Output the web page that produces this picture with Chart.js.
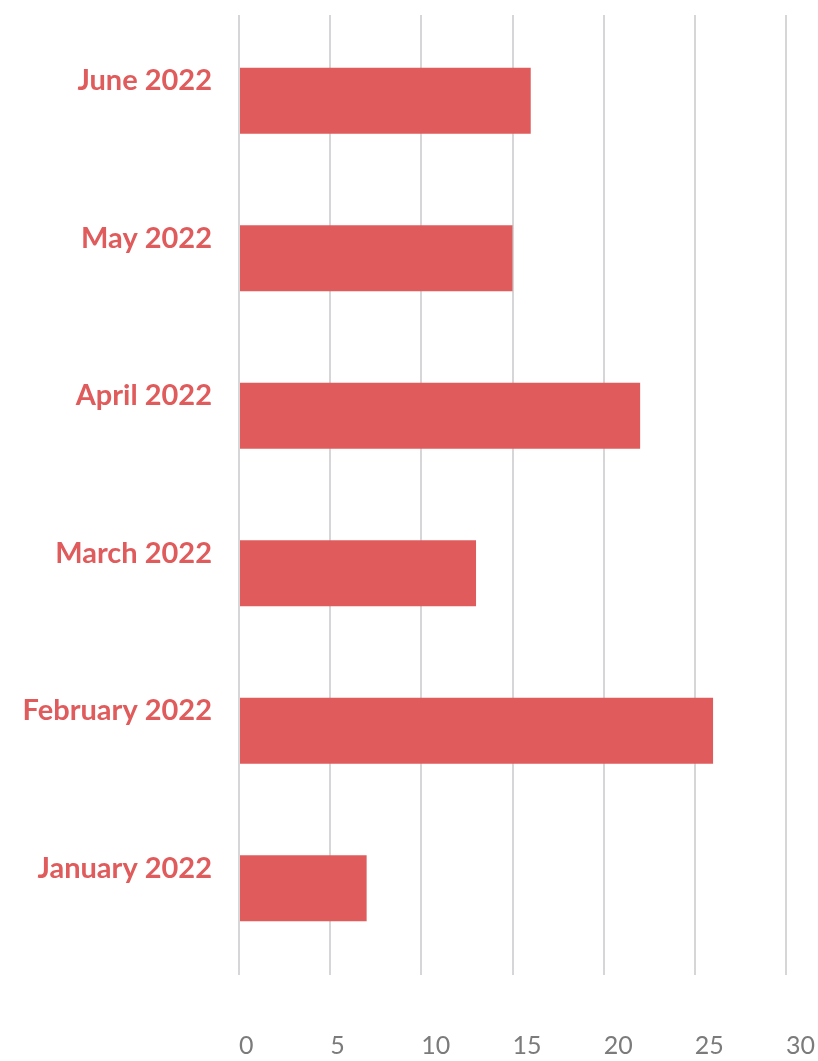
<!DOCTYPE html>
<html>

<head>
    <title>Monthly totals</title>
    <script src="https://cdn.jsdelivr.net/npm/chart.js@4.4.1/dist/chart.umd.min.js"></script>
    <style>
        body { margin: 0; background: #fff; }
        .grafico { width: 818px; height: 1061px; }
    </style>
</head>

<body>
    <div class="grafico">
        <canvas id="barras"></canvas>
    </div>

    <script>
        // months in calendar order, drawn bottom to top
        var meses = ['January 2022', 'February 2022', 'March 2022', 'April 2022', 'May 2022', 'June 2022'];
        var valores = [7, 26, 13, 22, 15, 16];
        var escala = [0, 5, 10, 15, 20, 25, 30];

        var vermelho = '#e05b5b';
        var cinzaGrade = '#d6d6d8';

        // keep chart.js from adding its own label padding around the plot
        function semPadding(scale) {
            scale.paddingTop = 0;
            scale.paddingBottom = 0;
            scale.paddingLeft = 0;
            scale.paddingRight = 0;
        }

        var ctx = document.getElementById('barras').getContext('2d');
        var grafico = new Chart(ctx, {
            type: 'bar',
            data: {
                labels: meses,
                datasets: [{
                    data: valores,
                    backgroundColor: vermelho,
                    borderWidth: 0,
                    categoryPercentage: 1,
                    barPercentage: 0.42
                }]
            },
            options: {
                indexAxis: 'y',
                responsive: true,
                maintainAspectRatio: false,
                animation: false,
                layout: { padding: { top: 15, right: 32, bottom: 0, left: 0 } },
                plugins: {
                    legend: { display: false },
                    tooltip: { enabled: false }
                },
                scales: {
                    x: {
                        min: escala[0],
                        max: escala[escala.length - 1],
                        border: { display: false },
                        grid: { color: cinzaGrade, lineWidth: 2, drawTicks: true, tickLength: 8 },
                        ticks: {
                            stepSize: 5,
                            align: 'start',
                            padding: 56,
                            color: '#7b7b7b',
                            font: { family: 'Lato', size: 25 }
                        },
                        afterFit: function (scale) {
                            semPadding(scale);
                            scale.height = 94;
                        }
                    },
                    // top copy of the axis only to carry the short grid stubs above the bars
                    x2: {
                        position: 'top',
                        min: escala[0],
                        max: escala[escala.length - 1],
                        border: { display: false },
                        grid: { color: cinzaGrade, lineWidth: 2, drawOnChartArea: false, drawTicks: true, tickLength: 7 },
                        ticks: { stepSize: 5, display: false },
                        afterFit: function (scale) {
                            semPadding(scale);
                            scale.height = 7;
                        }
                    },
                    y: {
                        reverse: true,
                        border: { display: false },
                        grid: { display: false, drawTicks: false },
                        ticks: {
                            padding: 27,
                            labelOffset: -20,
                            color: vermelho,
                            font: { family: 'Lato', size: 29, weight: 'bold' }
                        },
                        afterFit: function (scale) {
                            semPadding(scale);
                            scale.width = 239;
                        }
                    }
                }
            }
        });
    </script>
</body>

</html>
